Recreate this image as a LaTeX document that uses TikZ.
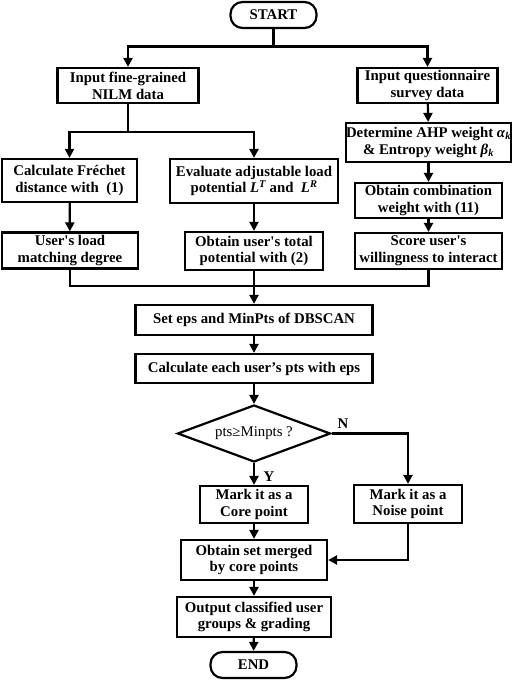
\documentclass[tikz,border=0pt]{standalone}
\usepackage{fontspec}
\setmainfont{Liberation Serif}
\usetikzlibrary{arrows.meta,shapes.geometric}
\newlength{\du}
\setlength{\du}{1pt}
\tikzset{
  box/.style={draw, line width=2.2\du, align=center, inner sep=0pt,
    font=\fontsize{14.8}{16.8}\selectfont\bfseries},
  term/.style={box, rounded corners=12\du, minimum width=86\du, minimum height=26\du},
  decision/.style={draw, diamond, line width=2.2\du, inner sep=0pt, aspect=2.7,
    minimum width=153\du, minimum height=57\du, font=\fontsize{14.8}{16.8}\selectfont},
  lbl/.style={inner sep=0pt, font=\fontsize{14.8}{16.8}\selectfont\bfseries},
  link/.style={line width=2.2\du},
  flow/.style={link, -{Triangle[length=9pt,width=9pt]}}
}

\begin{document}
\begin{tikzpicture}[yscale=-1]
\useasboundingbox (0,0) rectangle (512\du,680\du);
% terminals
\node[term] (start) at (273.5\du,15\du) {START};
\node[term] (end) at (253.5\du,665\du) {END};
% first level
\node[box, minimum width=141\du, minimum height=35\du] (nilm) at (128\du,85.5\du) {Input fine-grained\\NILM data};
\node[box, minimum width=140\du, minimum height=35\du] (quest) at (427.5\du,85.5\du) {Input questionnaire\\survey data};
% NILM branch
\node[box, minimum width=135\du, minimum height=43\du] (frechet) at (69.5\du,180.5\du) {Calculate Fr\'echet\\distance with ~(1)};
\node[box, minimum width=168\du, minimum height=44\du] (evalload) at (254\du,181\du) {Evaluate adjustable load\\potential \textit{L}\textsuperscript{\itshape T} and ~\textit{L}\textsuperscript{\itshape R}};
\node[box, minimum width=136\du, minimum height=36\du] (match) at (70\du,250.5\du) {User\textquotesingle s load\\matching degree};
\node[box, minimum width=138\du, minimum height=38\du] (total) at (254\du,251\du) {Obtain user\textquotesingle s total\\potential with (2)};
% questionnaire branch
\node[box, minimum width=163\du, minimum height=39\du] (ahp) at (428.5\du,142.5\du) {Determine AHP weight \textit{α}\textsubscript{\itshape k}\\\& Entropy weight \textit{β}\textsubscript{\itshape k}};
\node[box, minimum width=147\du, minimum height=35\du] (comb) at (428.5\du,200.5\du) {Obtain combination\\weight with (11)};
\node[box, minimum width=147\du, minimum height=36\du] (score) at (428.5\du,251\du) {Score user\textquotesingle s\\willingness to interact};
% DBSCAN
\node[box, minimum width=237\du, minimum height=30\du] (seteps) at (254\du,320\du) {Set eps and MinPts of DBSCAN};
\node[box, minimum width=237\du, minimum height=29\du] (calcpts) at (254\du,368.5\du) {Calculate each user’s pts with eps};
\node[decision] (dec) at (254\du,433.5\du) {pts≥Minpts ?};
\node[box, minimum width=108\du, minimum height=37\du] (core) at (254\du,504.5\du) {Mark it as a\\Core point};
\node[box, minimum width=108\du, minimum height=38\du] (noise) at (408\du,504\du) {Mark it as a\\Noise point};
\node[box, minimum width=146\du, minimum height=40\du] (merged) at (254\du,560\du) {Obtain set merged\\by core points};
\node[box, minimum width=154\du, minimum height=40\du] (output) at (254\du,617\du) {Output classified user\\groups \& grading};
\node[lbl] (ylbl) at (269\du,477\du) {Y};
\node[lbl] (nlbl) at (343\du,424\du) {N};
% connectors
\coordinate (s1) at (273.5\du,46.5\du);
\coordinate (s2) at (128\du,132\du);
\coordinate (j1) at (254\du,286\du);
\draw[link] (start.south) -- (s1);
\draw[flow] (s1) -| (nilm.north);
\draw[flow] (s1) -| (quest.north);
\draw[link] (nilm.south) -- (s2);
\draw[flow] (s2) -| (frechet.north);
\draw[flow] (s2) -| (evalload.north);
\draw[flow] (frechet) -- (match);
\draw[flow] (evalload) -- (total);
\draw[flow] (quest) -- (ahp);
\draw[flow] (ahp) -- (comb);
\draw[flow] (comb) -- (score);
\draw[link] (match.south) |- (j1);
\draw[link] (score.south) |- (j1);
\draw[link] (total.south) -- (j1);
\draw[flow] (j1) -- (seteps.north);
\draw[flow] (seteps) -- (calcpts);
\draw[flow] (calcpts) -- (dec);
\draw[flow] (dec.south) -- (core.north);
\draw[flow] (dec.east) -| (noise.north);
\draw[flow] (noise.south) |- (merged.east);
\draw[flow] (core) -- (merged);
\draw[flow] (merged) -- (output);
\draw[flow] (output) -- (end);
\end{tikzpicture}
\end{document}
